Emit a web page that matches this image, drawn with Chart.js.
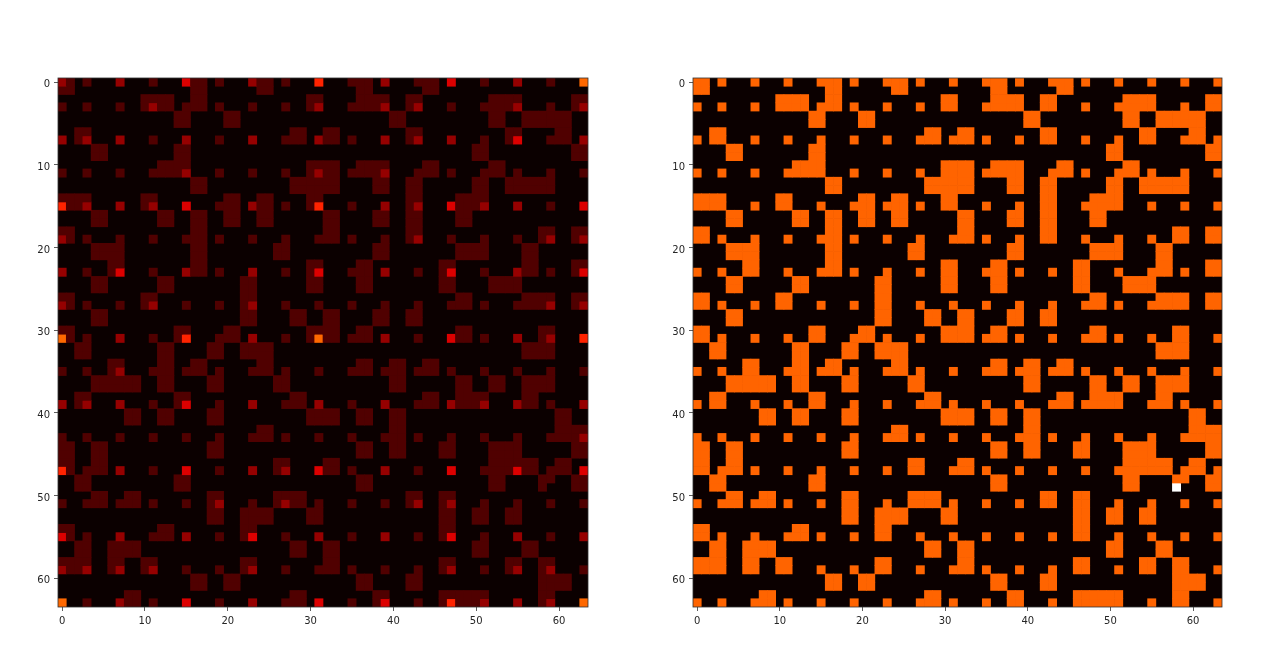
<!DOCTYPE html>
<html><head><meta charset="utf-8">
<style>html,body{margin:0;padding:0;background:#fff;width:1280px;height:658px;overflow:hidden}
.c{position:absolute;top:0;width:640px;height:658px}</style>
<script src="https://cdn.jsdelivr.net/npm/chart.js@4/dist/chart.umd.js"></script>
</head><body>
<div class="c" style="left:0"><canvas id="left" width="640" height="658"></canvas></div>
<div class="c" style="left:640px"><canvas id="right" width="640" height="658"></canvas></div>
<script>
const tickValues = [0,10,20,30,40,50,60];
const activeCells = [
"0-1 3 7 11 15-17 19 23-25 27 31 35-37 39 43-45 47 51 55 59 63",
"0-1 16-17 24-25 36-37 44-45",
"10-13 16-17 30-31 36-39 42-43 52-55 62-63",
"0 3 7 10-13 15-17 19 23 27 30-31 35-39 42-43 47 51-55 59 62-63",
"14-15 20-21 40-41 52-53 56-61",
"14-15 20-21 40-41 52-53 56-61",
"2-3 28-29 32-33 42-43 54-55 60-61",
"0 2-3 7 11 15 19 23 27-29 31-33 35 39 42-43 47 51 54-55 59-61 63",
"4-5 14-15 50-51 62-63",
"4-5 14-15 50-51 62-63",
"12-15 30-33 36-39 44-45 52-53",
"0 3 7 11-15 19 23 27 30-33 35-39 43-45 47 51-53 55 59 63",
"16-17 28-33 38-39 42-43 50-51 54-59",
"16-17 28-33 38-39 42-43 50-51 54-59",
"0-3 10-11 20-21 24-25 30-31 42-43 48-51",
"0-3 7 10-11 15 19-21 23-25 27 30-31 35 39 42-43 47-51 55 59 63",
"4-5 12-13 16-17 20-21 24-25 32-33 38-39 42-43 48-49",
"4-5 12-13 16-17 20-21 24-25 32-33 38-39 42-43 48-49",
"0-1 16-17 32-33 42-43 58-59 62-63",
"0-1 3 7 11 15-17 19 23 27 31-33 35 39 42-43 47 51 55 58-59 62-63",
"4-7 16-17 26-27 38-39 48-51 56-57",
"4-7 16-17 26-27 38-39 48-51 56-57",
"6-7 16-17 30-31 36-37 46-47 56-57 62-63",
"0 3 6-7 11 15-17 19 23 27 30-31 35-37 39 43 46-47 51 55-57 59 62-63",
"4-5 12-13 22-23 30-31 36-37 46-47 52-55",
"4-5 12-13 22-23 30-31 36-37 46-47 52-55",
"0-1 10-11 22-23 48-49 56-59 62-63",
"0-1 3 7 10-11 15 19 22-23 27 31 35 39 43 47-49 51 55-59 62-63",
"4-5 22-23 28-29 32-33 38-39 42-43",
"4-5 22-23 28-29 32-33 38-39 42-43",
"0-1 14-15 20-21 30-33 36-37 48-49 58-59",
"0-1 3 7 11 14-15 19-21 23 27 30-33 35-37 39 43 47-49 51 55 58-59 63",
"2-3 12-13 18-19 22-25 56-59",
"2-3 12-13 18-19 22-25 56-59",
"6-7 12-13 16-17 24-25 36-37 40-41 44-45",
"0 3 6-7 11-13 15-17 19 23-25 27 31 35-37 39-41 43-45 47 51 55 59 63",
"4-9 12-13 18-19 26-27 40-41 48-49 52-53 56-59",
"4-9 12-13 18-19 26-27 40-41 48-49 52-53 56-59",
"2-3 14-15 28-29 44-45 48-51 56-57",
"0 2-3 7 11 14-15 19 23 27-29 31 35 39 43-45 47-51 55-57 59 63",
"8-9 12-13 18-19 30-33 36-37 40-41 60-61",
"8-9 12-13 18-19 30-33 36-37 40-41 60-61",
"24-25 40-41 60-63",
"0 3 7 11 15 19 23-25 27 31 35 39-41 43 47 51 55 59-63",
"0-1 4-5 18-19 36-37 40-41 46-47 52-55 62-63",
"0-1 4-5 18-19 36-37 40-41 46-47 52-55 62-63",
"0-1 4-5 26-27 32-33 52-57 60-61",
"0-1 3-5 7 11 15 19 23 26-27 31-33 35 39 43 47 51-57 59-61 63",
"2-3 14-15 36-37 52-53 58-59 62-63",
"2-3 14-15 36-37 52-53 58 62-63",
"4-5 8-9 18-19 26-29 42-43 46-47",
"0 3-5 7-9 11 15 18-19 23 26-29 31 35 39 42-43 46-47 51 55 59 63",
"18-19 22-25 30-31 46-47 50-51 54-55",
"18-19 22-25 30-31 46-47 50-51 54-55",
"0-1 12-13 22-23 46-47",
"0-1 3 7 11-13 15 19 22-23 27 31 35 39 43 46-47 51 55 59 63",
"2-3 6-9 28-29 32-33 50-51 56-57",
"2-3 6-9 28-29 32-33 50-51 56-57",
"0-3 6-7 10-11 22-23 32-33 46-47 54-55 58-59",
"0-3 6-7 10-11 15 19 22-23 27 31-33 35 39 43 46-47 51 54-55 58-59 63",
"16-17 20-21 36-37 42-43 58-61",
"16-17 20-21 36-37 42-43 58-61",
"8-9 28-29 38-39 46-51 58-59",
"0 3 7-9 11 15 19 23 27-29 31 35 38-39 43 46-51 55 58-59 63"
];
const peakRows = [0,3,7,11,15,19,23,27,31,35,39,43,47,51,55,59,63];
const peakCols = [0,3,7,11,15,19,23,27,31,35,39,43,47,51,55,59,63];
const leftPeaks = [
[2,1,2,1,3,1,2,1,4,1,2,1,3,1,2,1,5],
[1,1,1,2,1,1,1,1,2,1,2,2,1,1,2,1,2],
[2,2,2,1,2,1,2,1,2,1,2,2,2,1,3,1,2],
[1,1,1,1,2,1,1,1,2,1,2,1,1,1,1,1,1],
[4,2,2,2,3,1,2,1,4,1,2,2,3,2,2,1,3],
[2,1,1,1,1,1,1,1,1,1,1,2,1,1,1,2,2],
[2,1,3,1,2,1,2,1,3,1,2,1,3,1,2,1,3],
[2,1,1,2,1,1,2,1,1,1,1,1,1,1,1,2,2],
[5,1,2,1,4,1,2,1,5,1,2,1,3,1,2,2,4],
[1,1,2,1,1,1,1,1,1,1,1,1,1,1,1,1,1],
[2,2,2,1,3,1,2,1,2,1,2,1,2,2,2,1,2],
[1,1,1,1,1,1,1,1,1,1,1,1,1,1,1,1,2],
[4,1,2,1,3,1,2,2,3,1,2,1,3,1,3,1,3],
[1,1,1,1,1,2,1,2,1,1,1,2,2,1,1,1,1],
[3,1,2,1,2,1,3,1,2,1,2,1,3,1,2,1,2],
[2,2,2,2,1,1,2,1,1,1,1,1,2,1,2,2,1],
[5,1,2,1,3,1,2,1,3,1,3,1,4,2,2,2,5]
];
const rightPeak = [[49,58]];

function hot(t){
  const r=Math.min(1,0.0416+t/0.365079*0.9584);
  const g=Math.max(0,Math.min(1,(t-0.365079)/0.380952));
  const b=Math.max(0,Math.min(1,(t-0.746032)/0.253968));
  return `rgb(${Math.round(r*255)},${Math.round(g*255)},${Math.round(b*255)})`;
}
const parsed = activeCells.map(s=>{
  const a=new Array(64).fill(0);
  s.split(' ').forEach(p=>{const q=p.split('-').map(Number);for(let c=q[0];c<=(q.length>1?q[1]:q[0]);c++)a[c]=1;});
  return a;
});
const leftValues = parsed.map((row,r)=>row.map((v,c)=>{
  const i=peakRows.indexOf(r), j=peakCols.indexOf(c);
  return v&&i>=0&&j>=0?leftPeaks[i][j]:v;
}));
const rightValues = parsed.map(row=>row.slice());
rightPeak.forEach(p=>{rightValues[p[0]][p[1]]=2;});

const frame={id:'frame',
  beforeDatasetsDraw(ch){const a=ch.chartArea,x=ch.ctx;x.save();x.fillStyle=hot(0);
    x.fillRect(a.left,a.top,a.right-a.left,a.bottom-a.top);x.restore();},
  afterDraw(ch){const a=ch.chartArea,x=ch.ctx;x.save();x.strokeStyle='#333';x.lineWidth=0.8;
    x.strokeRect(a.left,a.top,a.right-a.left,a.bottom-a.top);x.restore();}};

function heat(id,values,toT,axisW,padRight){
  const datasets=values.map((row,r)=>{
    const cols=[];row.forEach((v,c)=>{if(v>0)cols.push(c);});
    return {
      data:cols.map(c=>({x:c,y:[r-0.5,r+0.5]})),
      backgroundColor:cols.map(c=>hot(toT(row[c]))),
      borderWidth:0,barPercentage:1,categoryPercentage:1,grouped:false
    };
  });
  const tickFont={family:'"DejaVu Sans"',size:10};
  const xTicks={color:'#262626',font:tickFont,autoSkip:false,maxRotation:0,padding:4};
  const yTicks={color:'#262626',font:{family:'"DejaVu Sans"',size:10,lineHeight:0.5},autoSkip:false,maxRotation:0,padding:4,
    callback:v=>['',String(v)]};
  const grid={display:true,offset:false,drawOnChartArea:false,drawTicks:true,tickLength:4,tickColor:'#333',tickWidth:0.8};
  const setTicks=s=>{s.ticks=tickValues.map(v=>({value:v}));};
  new Chart(document.getElementById(id),{
    type:'bar',data:{datasets},plugins:[frame],
    options:{responsive:false,animation:false,events:[],
      layout:{padding:{left:0,top:78,right:padRight,bottom:0}},
      plugins:{legend:{display:false},tooltip:{enabled:false},title:{display:false}},
      scales:{
        x:{type:'linear',min:-0.5,max:63.5,offset:false,ticks:xTicks,grid,border:{display:false},
           afterBuildTicks:setTicks,afterFit(s){s.height=51;}},
        y:{type:'linear',reverse:true,min:-0.5,max:63.5,ticks:yTicks,grid,border:{display:false},
           afterBuildTicks:setTicks,afterFit(s){s.width=axisW;}}
      }}
  });
}
heat('left',leftValues,v=>v/9.6,58,52);
heat('right',rightValues,v=>v===2?1:0.515,53,58);
</script>
</body></html>
